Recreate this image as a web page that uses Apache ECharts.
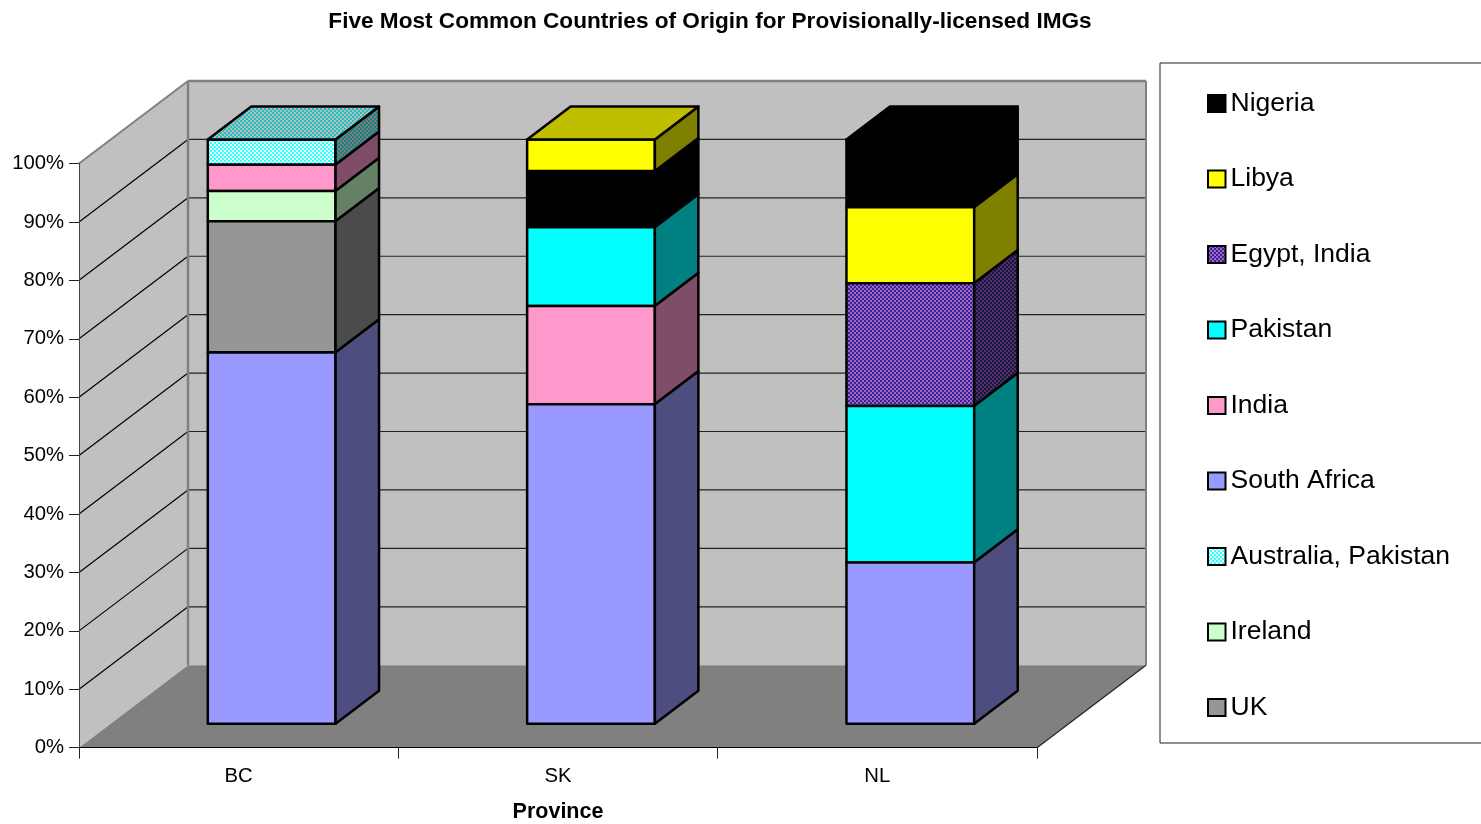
<!DOCTYPE html>
<html>
<head>
<meta charset="utf-8">
<title>Five Most Common Countries of Origin</title>
<style>
    html, body { margin: 0; padding: 0; background: #fff; }
    #chart { width: 1481px; height: 824px; }
</style>
<script src="https://cdn.jsdelivr.net/npm/echarts@6/dist/echarts.min.js"></script>
</head>
<body>
<div id="chart"></div>
<script>
var provinces = ['BC', 'SK', 'NL'];
var yTicks = [0, 10, 20, 30, 40, 50, 60, 70, 80, 90, 100];

// percent of each province
var southAfrica = [63.6, 54.7, 27.6];
var uk = [22.4, 0, 0];
var ireland = [5.2, 0, 0];
var india = [4.5, 16.8, 0];
var australiaPakistan = [4.3, 0, 0];
var pakistan = [0, 13.5, 26.8];
var egyptIndia = [0, 0, 21];
var libya = [0, 5.4, 13];
var nigeria = [0, 9.6, 11.6];

var countries = ['Nigeria', 'Libya', 'Egypt, India', 'Pakistan', 'India', 'South Africa', 'Australia, Pakistan', 'Ireland', 'UK'];
var valuesOf = {
    'Nigeria': nigeria,
    'Libya': libya,
    'Egypt, India': egyptIndia,
    'Pakistan': pakistan,
    'India': india,
    'South Africa': southAfrica,
    'Australia, Pakistan': australiaPakistan,
    'Ireland': ireland,
    'UK': uk
};
// bottom to top, each province stacks in its own order
var stackOrder = [
    ['South Africa', 'UK', 'Ireland', 'India', 'Australia, Pakistan'],
    ['South Africa', 'India', 'Pakistan', 'Nigeria', 'Libya'],
    ['South Africa', 'Pakistan', 'Egypt, India', 'Libya', 'Nigeria']
];

var fills = {
    'Nigeria': ['#000000'],
    'Libya': ['#FFFF00'],
    'Egypt, India': ['#2A2AA0', '#B060B8'],
    'Pakistan': ['#00FFFF'],
    'India': ['#FF99CC'],
    'South Africa': ['#9999FF'],
    'Australia, Pakistan': ['#33FFFF', '#E8FFFF'],
    'Ireland': ['#CCFFCC'],
    'UK': ['#969696']
};

var FONT = '"Liberation Sans", Arial, sans-serif';
var WALL_DX = 109, WALL_DY = -82.5; // depth of the whole box
var BAR_DX = 33, BAR_DY = -24;      // bar front inside the box
var SIDE_DX = 43.5, SIDE_DY = -33;  // depth of a bar

function shade(hex, k) {
    var n = parseInt(hex.slice(1), 16);
    var r = Math.round((n >> 16 & 255) * k);
    var g = Math.round((n >> 8 & 255) * k);
    var b = Math.round((n & 255) * k);
    return 'rgb(' + r + ',' + g + ',' + b + ')';
}

// plain colour, or a small repeating tile for the hatched ones
function paint(name, k) {
    var c = fills[name];
    if (c.length === 1) return shade(c[0], k);
    var tile = document.createElement('canvas');
    tile.width = 4;
    tile.height = 4;
    var ctx = tile.getContext('2d');
    for (var y = 0; y < 4; y++) {
        for (var x = 0; x < 4; x++) {
            ctx.fillStyle = shade(c[(Math.floor(x / 2) + Math.floor(y / 2)) % 2], k);
            ctx.fillRect(x, y, 1, 1);
        }
    }
    return { image: tile, repeat: 'repeat' };
}

function line(x1, y1, x2, y2, color, w) {
    return {
        type: 'line',
        shape: { x1: x1, y1: y1, x2: x2, y2: y2 },
        style: { stroke: color, lineWidth: w }
    };
}

function poly(points, fill, stroke, w) {
    return {
        type: 'polygon',
        shape: { points: points },
        style: { fill: fill, stroke: stroke, lineWidth: w, lineJoin: 'round' }
    };
}

//墙和地板
function renderWalls(params, api) {
    var sys = params.coordSys;
    var x0 = sys.x, x1 = sys.x + sys.width;
    var y0 = api.coord([0, 0])[1];
    var yTop = api.coord([0, 100])[1];
    var kids = [
        poly([[x0, y0], [x0 + WALL_DX, y0 + WALL_DY], [x0 + WALL_DX, yTop + WALL_DY], [x0, yTop]], '#C0C0C0'),
        poly([[x0 + WALL_DX, y0 + WALL_DY], [x1 + WALL_DX, y0 + WALL_DY], [x1 + WALL_DX, yTop + WALL_DY], [x0 + WALL_DX, yTop + WALL_DY]], '#C0C0C0'),
        poly([[x0, y0], [x1, y0], [x1 + WALL_DX, y0 + WALL_DY], [x0 + WALL_DX, y0 + WALL_DY]], '#808080')
    ];
    yTicks.forEach(function(t) {
        if (t === 0) return;
        var y = api.coord([0, t])[1];
        if (t < 100) kids.push(line(x0, y, x0 + WALL_DX, y + WALL_DY, '#000', 1.2));
        kids.push(line(x0 + WALL_DX, y + WALL_DY, x1 + WALL_DX, y + WALL_DY, '#222', 1.2));
    });
    kids.push(line(x0, yTop, x0 + WALL_DX, yTop + WALL_DY, '#808080', 2));
    kids.push(line(x0 + WALL_DX, y0 + WALL_DY, x0 + WALL_DX, yTop + WALL_DY, '#808080', 2.5));
    kids.push(line(x0 + WALL_DX, yTop + WALL_DY, x1 + WALL_DX, yTop + WALL_DY, '#808080', 2.5));
    kids.push(line(x1 + WALL_DX, y0 + WALL_DY, x1 + WALL_DX, yTop + WALL_DY, '#808080', 2));
    kids.push(line(x1, y0, x1 + WALL_DX, y0 + WALL_DY, '#222', 1.2));
    return { type: 'group', children: kids };
}

function barRenderer(name) {
    var front = paint(name, 1), side = paint(name, 0.5), top = paint(name, 0.75);
    return function(params, api) {
        var cat = api.value(0);
        var low = api.coord([cat, api.value(1)]);
        var high = api.coord([cat, api.value(2)]);
        var half = api.size([1, 0])[0] * 0.2;
        var xl = low[0] - half + BAR_DX, xr = low[0] + half + BAR_DX;
        var yb = low[1] + BAR_DY, yt = high[1] + BAR_DY;
        var kids = [
            poly([[xl, yb], [xr, yb], [xr, yt], [xl, yt]], front, '#000', 2.5),
            poly([[xr, yb], [xr + SIDE_DX, yb + SIDE_DY], [xr + SIDE_DX, yt + SIDE_DY], [xr, yt]], side, '#000', 2.5)
        ];
        if (api.value(3)) {
            kids.push(poly([[xl, yt], [xr, yt], [xr + SIDE_DX, yt + SIDE_DY], [xl + SIDE_DX, yt + SIDE_DY]], top, '#000', 2.5));
        }
        return { type: 'group', children: kids };
    };
}

// [province index, start, end, is top of stack]
function segments(name) {
    var rows = [];
    stackOrder.forEach(function(order, cat) {
        var base = 0;
        order.forEach(function(n, i) {
            var v = valuesOf[n][cat];
            if (n === name) rows.push([cat, base, base + v, i === order.length - 1 ? 1 : 0]);
            base += v;
        });
    });
    return rows;
}

function initChart() {
    var chart = echarts.init(document.getElementById('chart'));
    var series = [{
        type: 'custom',
        name: 'walls',
        z: 1,
        silent: true,
        renderItem: renderWalls,
        data: [[0, 0]],
        encode: { x: 0, y: 1 }
    }];
    countries.forEach(function(name) {
        series.push({
            type: 'custom',
            name: name,
            z: 4,
            silent: true,
            clip: false,
            renderItem: barRenderer(name),
            itemStyle: { color: paint(name, 1) },
            data: segments(name),
            encode: { x: 0, y: [1, 2] }
        });
    });

    var option = {
        animation: false,
        backgroundColor: '#fff',
        title: {
            text: 'Five Most Common Countries of Origin for Provisionally-licensed IMGs',
            left: 705,
            top: 5,
            textAlign: 'center',
            textStyle: { fontFamily: FONT, fontSize: 22.6, fontWeight: 'bold', color: '#000' }
        },
        legend: {
            data: countries,
            orient: 'vertical',
            left: 1160,
            top: 63,
            padding: [27, 100, 22, 47],
            itemGap: 48.5,
            itemWidth: 17.5,
            itemHeight: 17,
            icon: 'rect',
            selectedMode: false,
            borderColor: '#222',
            borderWidth: 1,
            itemStyle: { borderColor: '#000', borderWidth: 2 },
            textStyle: { fontFamily: FONT, fontSize: 26.5, color: '#000' }
        },
        grid: { left: 79, top: 163.5, width: 958, height: 584.2, outerBoundsMode: 'none' },
        xAxis: {
            type: 'category',
            data: provinces,
            z: 3,
            name: 'Province',
            nameLocation: 'middle',
            nameGap: 53,
            nameTextStyle: { fontFamily: FONT, fontSize: 21.5, fontWeight: 'bold', color: '#000' },
            axisLine: { lineStyle: { color: '#000', width: 1 } },
            axisTick: { show: true, length: 11, lineStyle: { color: '#222' } },
            axisLabel: { fontFamily: FONT, fontSize: 20.3, color: '#000', margin: 19 }
        },
        yAxis: {
            type: 'value',
            min: 0,
            max: 100,
            interval: 10,
            z: 3,
            splitLine: { show: false },
            axisLine: { show: true, lineStyle: { color: '#444', width: 1 } },
            axisTick: { show: true, length: 10, lineStyle: { color: '#222' } },
            axisLabel: { fontFamily: FONT, fontSize: 20.3, color: '#000', margin: 15, formatter: '{value}%' }
        },
        series: series
    };
    chart.setOption(option);
}

initChart();
</script>
</body>
</html>
